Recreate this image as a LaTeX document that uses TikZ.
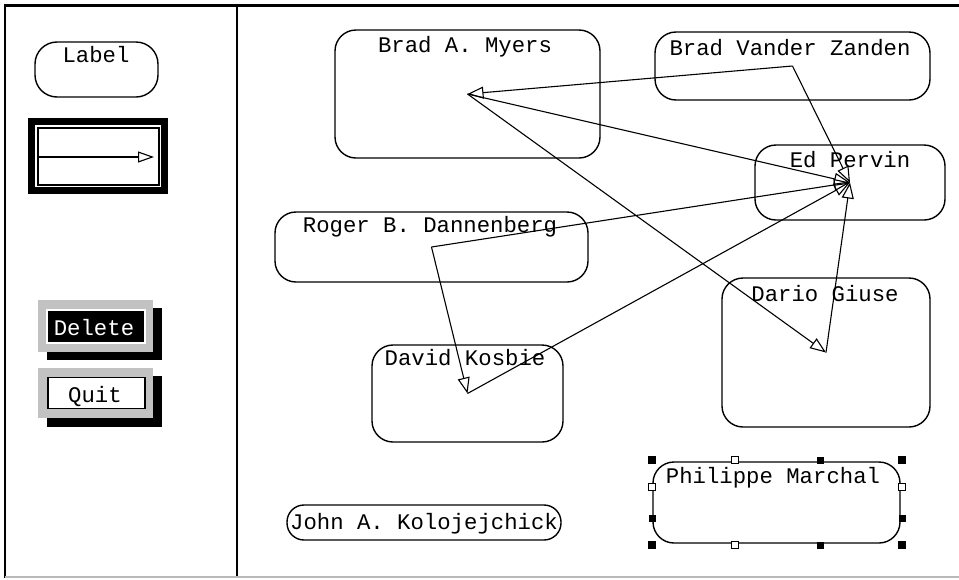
\documentclass[tikz,border=0pt]{standalone}
\usepackage{fontspec}
\newfontfamily\gfont{Liberation Mono}
\usetikzlibrary{arrows.meta}
\begin{document}
\begin{tikzpicture}[x=1pt,y=-1pt,
  box/.style={draw, line width=1.4pt, rounded corners=21pt, inner sep=0pt},
  txt/.style={font=\gfont\fontsize{22.3}{24}\selectfont, inner sep=0pt, anchor=base},
  conn/.style={line width=1.1pt, -{Triangle[open,length=16pt,width=12pt,line width=1.1pt]}},
  hfill/.style={fill=black},
  hopen/.style={draw=black, fill=white, line width=1pt}]
\useasboundingbox (0,0) rectangle (959,579);
% frame
\draw[line width=3pt] (5,5) -- (959,5);
\draw[line width=2.5pt] (5,4) -- (5,578);
\draw[line width=2.5pt] (237,4) -- (237,578);
\draw[gray!55, line width=1.5pt] (5,577) -- (959,577);
% palette: label tool
\node[box, rounded corners=22pt, minimum width=123pt, minimum height=55pt] (labeltool) at (96.5,69.5) {};
\node[txt] (labeltxt) at (96,62) {Label};
% palette: arrow tool (selected)
\node[draw, line width=7pt, minimum width=133pt, minimum height=69pt, inner sep=0pt] (arrowtool) at (98,156) {};
\node[draw, line width=1.2pt, minimum width=121pt, minimum height=57pt, inner sep=0pt] (arrowinner) at (98.5,156.5) {};
\coordinate (pa) at (38,157);
\coordinate (pb) at (154,157);
\draw[line width=1.1pt, -{Triangle[open,length=16pt,width=11pt,line width=1.1pt]}] (pa) -- (pb);
% Delete button
\fill[black] (47,308) rectangle (162,360);
\fill[gray!48] (38,300) rectangle (153,352);
\node[fill=black, draw=white, line width=1.5pt, minimum width=98pt, minimum height=33pt, inner sep=0pt] (delete) at (96,326.5) {};
\node[txt, text=white] (deletetxt) at (94,335) {Delete};
% Quit button
\fill[black] (47,376) rectangle (162,427);
\fill[gray!48] (38,368) rectangle (153,418);
\node[fill=white, draw=black, line width=1.5pt, minimum width=97pt, minimum height=31pt, inner sep=0pt] (quit) at (96.5,393) {};
\node[txt] (quittxt) at (95,402) {Quit};
% canvas boxes
\node[box, minimum width=265pt, minimum height=128pt] (myers) at (467.5,94) {};
\node[txt] at (465,52) {Brad A. Myers};
\node[box, minimum width=275pt, minimum height=68pt] (bvz) at (792.5,66) {};
\node[txt] at (790,55) {Brad Vander Zanden};
\node[box, minimum width=190pt, minimum height=75pt] (ed) at (850,182.5) {};
\node[txt] at (850,167) {Ed Pervin};
\node[box, minimum width=313pt, minimum height=70pt] (dann) at (431.5,247) {};
\node[txt] at (430,232) {Roger B. Dannenberg};
\node[box, minimum width=208pt, minimum height=149pt] (dario) at (826,352.5) {};
\node[txt] at (825,301) {Dario Giuse};
\node[box, minimum width=191pt, minimum height=97pt] (kosbie) at (467.5,393.5) {};
\node[txt] at (465,365) {David Kosbie};
\node[box, rounded corners=17pt, minimum width=274pt, minimum height=35pt] (john) at (424,522.5) {};
\node[txt] at (424,529) {John A. Kolojejchick};
\node[box, minimum width=247pt, minimum height=81pt] (philippe) at (776.5,502.5) {};
\node[txt] at (773,483) {Philippe Marchal};
% selection handles
\foreach \x/\y in {652/460, 902/460, 652/545, 902/545}
  \fill[hfill] (\x-4,\y-4) rectangle (\x+4,\y+4);
\foreach \x/\y in {820/460, 820/545, 652/518, 902/518}
  \fill[hfill] (\x-3.5,\y-3.5) rectangle (\x+3.5,\y+3.5);
\foreach \x/\y in {735/460, 735/545, 652/487, 902/487}
  \filldraw[hopen] (\x-3.5,\y-3.5) rectangle (\x+3.5,\y+3.5);
% connectors
\draw[conn] (bvz.center) -- (myers.center);
\draw[conn] (bvz.center) -- (ed.center);
\draw[conn] (myers.center) -- (ed.center);
\draw[conn] (myers.center) -- (dario.center);
\draw[conn] (dann.center) -- (ed.center);
\draw[conn] (dann.center) -- (kosbie.center);
\draw[conn] (kosbie.center) -- (ed.center);
\draw[conn] (dario.center) -- (ed.center);
\end{tikzpicture}
\end{document}
